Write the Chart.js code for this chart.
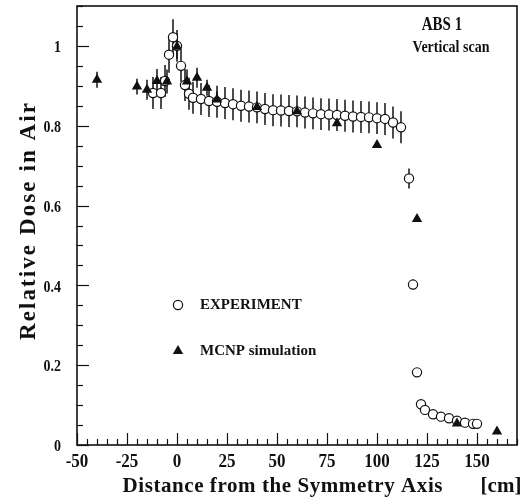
<!DOCTYPE html>
<html>
<head>
<meta charset="utf-8">
<script src="https://cdn.jsdelivr.net/npm/chart.js@4/dist/chart.umd.min.js"></script>
<style>
html,body{margin:0;padding:0;background:#fff;}
#wrap{width:524px;height:502px;}
</style>
</head>
<body>
<div id="wrap"><canvas id="c" width="524" height="502"></canvas></div>
<script>
// ---- data ----
const xTicks = [-50, -25, 0, 25, 50, 75, 100, 125, 150];
const yTicks = [0, 0.2, 0.4, 0.6, 0.8, 1];

const expX = [-12, -8, -6, -4, -2, 0, 2, 4, 6, 8, 12, 16, 20, 24, 28, 32, 36, 40, 44, 48, 52, 56, 60, 64, 68, 72, 76, 80, 84, 88, 92, 96, 100, 104, 108, 112, 116, 118, 120, 122, 124, 128, 132, 136, 140, 144, 148, 150];
const expY = [0.882, 0.882, 0.912, 0.978, 1.022, 1.0, 0.95, 0.902, 0.88, 0.87, 0.867, 0.862, 0.86, 0.857, 0.854, 0.85, 0.848, 0.846, 0.842, 0.839, 0.838, 0.837, 0.836, 0.833, 0.831, 0.829, 0.828, 0.827, 0.825, 0.823, 0.822, 0.821, 0.819, 0.817, 0.808, 0.796, 0.668, 0.402, 0.182, 0.102, 0.088, 0.077, 0.071, 0.067, 0.061, 0.056, 0.053, 0.053];
const expErr = [0.04, 0.04, 0.04, 0.045, 0.045, 0.04, 0.04, 0.04, 0.04, 0.04, 0.04, 0.04, 0.04, 0.04, 0.04, 0.04, 0.04, 0.04, 0.04, 0.04, 0.04, 0.04, 0.04, 0.04, 0.04, 0.04, 0.04, 0.04, 0.04, 0.04, 0.04, 0.04, 0.04, 0.04, 0.04, 0.04, 0.025, 0.012, 0, 0, 0, 0, 0, 0, 0, 0, 0, 0];

const mcX = [-40, -20, -15, -10, -5, 0, 5, 10, 15, 20, 40, 60, 80, 100, 120, 140, 160];
const mcY = [0.915, 0.898, 0.89, 0.912, 0.911, 0.998, 0.911, 0.92, 0.895, 0.866, 0.847, 0.836, 0.806, 0.752, 0.566, 0.054, 0.034];
const mcErr = [0.02, 0.02, 0.025, 0.03, 0.03, 0.03, 0.03, 0.025, 0.02, 0.02, 0, 0, 0, 0, 0, 0, 0];

const seriesNames = ['EXPERIMENT', 'MCNP simulation'];
const xTitle = 'Distance from the Symmetry Axis';
const xUnit = '[cm]';
const yTitle = 'Relative Dose in Air';
const note = ['ABS 1', 'Vertical scan'];

// ---- rendering ----
const FONT = '"Liberation Serif", "Times New Roman", serif';
const INK = '#111';

// draw text with optional vertical stretch and target width (letter spacing)
function txt(ctx, text, x, y, size, align, sy, target) {
  ctx.save();
  ctx.font = 'bold ' + size + 'px ' + FONT;
  ctx.textBaseline = 'middle';
  ctx.translate(x, y);
  ctx.scale(1, sy || 1);
  let sp = 0;
  if (target) {
    const w0 = ctx.measureText(text).width;
    sp = Math.max(0, (target - w0) / Math.max(1, text.length - 1));
  }
  ctx.letterSpacing = sp + 'px';
  const w = ctx.measureText(text).width - sp;
  let x0 = 0;
  if (align === 'center') x0 = -w / 2;
  else if (align === 'right') x0 = -w;
  ctx.textAlign = 'left';
  ctx.fillText(text, x0, 0);
  ctx.restore();
}

const custom = {
  id: 'custom',
  beforeDatasetsDraw(chart) {
    const ctx = chart.ctx, xs = chart.scales.x, ys = chart.scales.y;
    ctx.save();
    ctx.strokeStyle = INK;
    ctx.lineWidth = 1.5;
    const bars = (X, Y, E) => {
      for (let i = 0; i < X.length; i++) {
        if (!E[i]) continue;
        const px = xs.getPixelForValue(X[i]);
        ctx.beginPath();
        ctx.moveTo(px, ys.getPixelForValue(Y[i] - E[i]));
        ctx.lineTo(px, ys.getPixelForValue(Y[i] + E[i]));
        ctx.stroke();
      }
    };
    bars(mcX, mcY, mcErr);
    bars(expX, expY, expErr);
    ctx.restore();
  },
  afterDraw(chart) {
    const ctx = chart.ctx, xs = chart.scales.x, ys = chart.scales.y, a = chart.chartArea;
    ctx.save();
    ctx.strokeStyle = INK;
    ctx.fillStyle = INK;
    // inward ticks
    ctx.lineWidth = 1.2;
    for (let v = xs.min; v <= xs.max + 1e-9; v += 5) {
      const px = Math.round(xs.getPixelForValue(v)) + 0.5;
      const major = Math.abs(v / 25 - Math.round(v / 25)) < 1e-6;
      const len = major ? 12 : 6;
      ctx.beginPath(); ctx.moveTo(px, a.bottom); ctx.lineTo(px, a.bottom - len); ctx.stroke();
    }
    for (let k = 0; k * 0.05 <= ys.max + 1e-9; k++) {
      const v = k * 0.05;
      const py = Math.round(ys.getPixelForValue(v)) + 0.5;
      const major = k % 4 === 0;
      const len = major ? 12 : 6;
      ctx.beginPath(); ctx.moveTo(a.left, py); ctx.lineTo(a.left + len, py); ctx.stroke();
    }
    // frame
    ctx.lineWidth = 1.6;
    ctx.strokeRect(a.left, a.top, a.right - a.left, a.bottom - a.top);

    // tick labels from the scales
    xs.ticks.forEach(t => txt(ctx, String(t.value), xs.getPixelForValue(t.value), 462, 17, 'center', 1.05));
    ys.ticks.forEach(t => txt(ctx, String(t.value), 61, ys.getPixelForValue(t.value) + 2, 14, 'right', 1.15));

    // legend
    ctx.lineWidth = 1.2;
    ctx.fillStyle = '#fff';
    ctx.beginPath(); ctx.arc(178, 305, 4.6, 0, Math.PI * 2); ctx.fill(); ctx.stroke();
    ctx.fillStyle = INK;
    const r = 6;
    ctx.beginPath();
    ctx.moveTo(178, 351 - r);
    ctx.lineTo(178 + r * Math.sin(2 * Math.PI / 3), 351 - r * Math.cos(2 * Math.PI / 3));
    ctx.lineTo(178 + r * Math.sin(4 * Math.PI / 3), 351 - r * Math.cos(4 * Math.PI / 3));
    ctx.closePath(); ctx.fill();
    txt(ctx, seriesNames[0], 200, 305, 15, 'left', 1);
    txt(ctx, seriesNames[1], 200, 351, 15, 'left', 1);

    // note
    txt(ctx, note[0], 442, 25, 15, 'center', 1.2);
    txt(ctx, note[1], 451, 47, 14, 'center', 1.25);

    // axis titles
    txt(ctx, xTitle, 282.5, 487, 21, 'center', 1, 320);
    txt(ctx, xUnit, 501, 487, 21, 'center', 1);
    ctx.save();
    ctx.translate(29, 221.5);
    ctx.rotate(-Math.PI / 2);
    txt(ctx, yTitle, 0, 0, 23, 'center', 1, 237);
    ctx.restore();
    ctx.restore();
  }
};

new Chart(document.getElementById('c'), {
  type: 'scatter',
  data: {
    datasets: [
      {
        label: seriesNames[1],
        data: mcX.map((x, i) => ({ x, y: mcY[i] })),
        pointStyle: 'triangle',
        pointRadius: 6,
        backgroundColor: INK,
        borderColor: INK,
        borderWidth: 0,
        order: 0
      },
      {
        label: seriesNames[0],
        data: expX.map((x, i) => ({ x, y: expY[i] })),
        pointStyle: 'circle',
        pointRadius: 4.6,
        backgroundColor: '#fff',
        borderColor: INK,
        borderWidth: 1.2,
        order: 1
      }
    ]
  },
  options: {
    responsive: false,
    animation: false,
    events: [],
    layout: { padding: { left: 0, right: 7, top: 5, bottom: 0 } },
    plugins: { legend: { display: false }, tooltip: { enabled: false } },
    scales: {
      x: {
        type: 'linear', min: -50, max: 170,
        grid: { display: false, drawTicks: false },
        border: { display: false },
        afterBuildTicks: s => { s.ticks = xTicks.map(v => ({ value: v })); },
        afterFit: s => { s.height = 57; },
        ticks: { display: false }
      },
      y: {
        type: 'linear', min: 0, max: 1.1,
        grid: { display: false, drawTicks: false },
        border: { display: false },
        afterBuildTicks: s => { s.ticks = yTicks.map(v => ({ value: v })); },
        afterFit: s => { s.width = 77; },
        ticks: { display: false }
      }
    }
  },
  plugins: [custom]
});
</script>
</body>
</html>
